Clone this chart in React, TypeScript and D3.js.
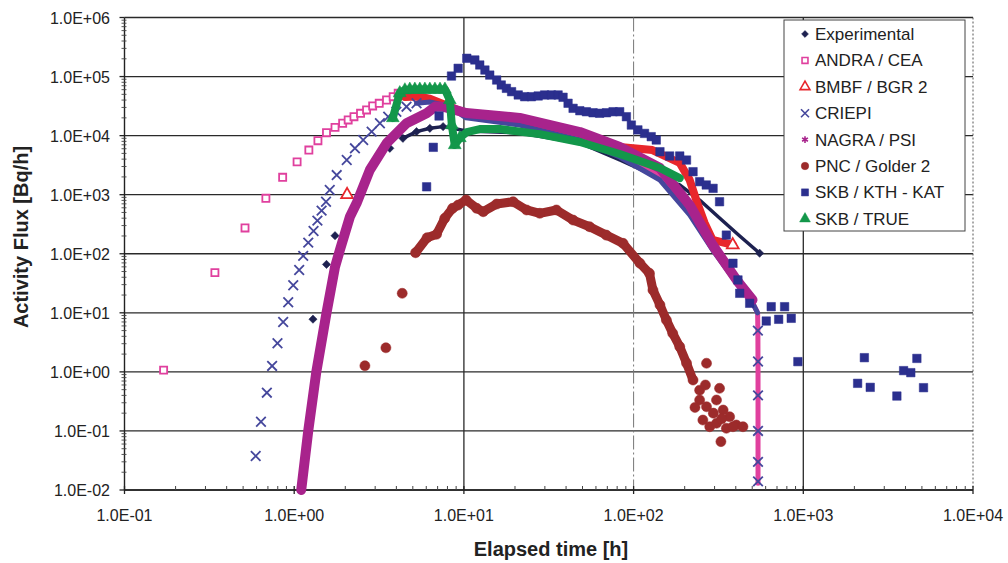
import * as d3 from "d3";

type P = [number, number];

const W = 1008;
const H = 563;
const left = 124.5;
const right = 973;
const top = 17.5;
const bottom = 490;

const xTicks = [0.1, 1, 10, 100, 1000, 10000];
const yTicks = [0.01, 0.1, 1, 10, 100, 1e3, 1e4, 1e5, 1e6];
const xGrid = [10, 100, 1000];

// ---- data: [elapsed time h, activity flux Bq/h] ----
const experimentalPts: P[] = [
  [1.29, 7.8], [1.55, 66], [1.74, 202], [3.66, 6100], [4.37, 9000], [5.26, 11700],
  [6.3, 13300], [7.54, 14200], [8.63, 13300], [553, 102],
];
const experimentalTrace: P[] = [
  [4.37, 9000], [5.26, 11700], [6.3, 13300], [7.54, 14200], [8.63, 13300], [10.3, 12000],
  [21.3, 11100], [48.2, 7500], [82.8, 3870], [143, 1910], [187, 1460], [245, 812],
  [321, 403], [422, 200], [553, 102],
];

const andraPts: P[] = [
  [0.17, 1.07], [0.341, 48], [0.513, 273], [0.681, 869], [0.855, 1970], [1.04, 3600],
  [1.22, 5700], [1.38, 8200], [1.55, 11200], [1.74, 13800], [1.93, 16200], [2.08, 18400],
  [2.25, 20900], [2.46, 23900], [2.67, 27200], [2.9, 31800], [3.17, 35300], [3.5, 40100],
  [3.83, 45600], [4.1, 52100],
];
const andraTrace: P[] = [
  [4.1, 52100], [5.5, 50000], [6.5, 42000], [8, 30000], [10.3, 22000], [21.3, 17500],
  [48.2, 10000], [82.8, 5200], [143, 2100], [214, 520], [292, 125], [405, 33], [502, 15],
  [538, 10], [540, 5], [541, 1], [541, 0.1], [541, 0.013],
];

const bmbfPts: P[] = [[2.05, 1000], [384, 141]];
const bmbfTrace: P[] = [
  [4.5, 45000], [5.2, 46000], [6.3, 42000], [8, 32000], [10.3, 24000], [21.3, 19000],
  [48.2, 11000], [82.8, 6400], [129, 5700], [187, 3440], [214, 1780], [234, 812],
  [262, 332], [292, 171], [384, 141],
];

const criepiPts: P[] = [
  [0.593, 0.0376], [0.637, 0.143], [0.69, 0.444], [0.741, 1.26], [0.797, 3.05],
  [0.861, 6.98], [0.922, 15.1], [0.987, 29.3], [1.07, 53], [1.13, 92], [1.21, 154],
  [1.3, 243], [1.37, 363], [1.45, 537], [1.54, 760], [1.62, 1200], [1.78, 2150],
  [2.04, 3870], [2.28, 6100], [2.55, 8430], [2.86, 11700], [3.2, 16200], [3.58, 20900],
  [4.0, 25400], [4.59, 30900], [5.26, 35300], [540, 5], [541, 1.5], [541, 0.4],
  [541, 0.1], [541, 0.03], [541, 0.014],
];
const criepiTrace: P[] = [
  [5.26, 35300], [6.3, 37000], [7.21, 34000], [8.5, 29000], [10.3, 20000], [21.3, 15100],
  [48.2, 8430], [82.8, 4350], [143, 1770], [214, 453], [292, 116], [405, 31.9],
  [502, 14.7], [538, 10],
];

const nagraTrace: P[] = [
  [1.1, 0.01], [1.21, 0.1], [1.35, 1], [1.55, 10], [1.74, 60], [1.86, 116], [2.13, 424],
  [2.33, 714], [2.79, 2620], [3.5, 7410], [4.59, 16200], [6.03, 23900], [6.8, 31000],
  [7.54, 30900], [10.3, 24200], [21.3, 19900], [48.2, 11500], [82.8, 6410], [143, 2830],
  [214, 668], [292, 141], [405, 35.9], [502, 16.5],
];

const pncPts: P[] = [
  [2.61, 1.27], [3.47, 2.56], [4.33, 21.4], [5.19, 104], [6.07, 187], [6.9, 214],
  [7.71, 398], [8.57, 588], [9.25, 668], [10.3, 812], [11.9, 588], [13.0, 515],
  [15.6, 695], [19.5, 760], [23.4, 551], [28, 484], [35.1, 551], [44, 372], [55, 287],
  [69, 207], [86.7, 150], [109, 69], [124, 46.7], [130, 24.3], [143, 13.6], [156, 7.55],
  [170, 4.5], [187, 2.67], [205, 1.41], [224, 0.728], [245, 0.49], [269, 0.257],
  [269, 1.4], [321, 0.527], [245, 0.334], [308, 0.334], [337, 0.226], [368, 0.174],
  [403, 0.126], [441, 0.118], [256, 0.153], [281, 0.118], [308, 0.135], [352, 0.111],
  [385, 0.118], [327, 0.066], [230, 0.25], [295, 0.2], [330, 0.16], [265, 0.6],
];
const pncTrace: P[] = [
  [5.19, 104], [6.07, 187], [6.9, 214], [7.71, 398], [8.57, 588], [9.25, 668], [10.3, 812],
  [11.9, 588], [13.0, 515], [15.6, 695], [19.5, 760], [23.4, 551], [28, 484], [35.1, 551],
  [44, 372], [55, 287], [69, 207], [86.7, 150], [109, 69], [124, 46.7], [130, 24.3],
  [143, 13.6], [156, 7.55], [170, 4.5], [187, 2.67], [205, 1.41], [224, 0.728],
];

const kthPts: P[] = [
  [6.03, 1360], [6.6, 6340], [7.14, 21500], [8.45, 102000], [9.25, 138000],
  [10.4, 204000], [11.6, 191000], [12.4, 157000], [13.3, 129000], [14.2, 106000],
  [15.6, 87400], [16.6, 72000], [17.8, 63200], [19.1, 55500], [20.9, 48800],
  [22.8, 45600], [25, 45600], [27.4, 46900], [29.9, 48800], [32.8, 48800], [35.9, 48800],
  [38.4, 44600], [41.1, 35300], [44, 29000], [48.2, 26400], [52.7, 25400], [57.7, 24400],
  [63.1, 23900], [69.2, 24400], [75.7, 25400], [82.8, 25400], [90.7, 20900], [97, 15100],
  [106, 12500], [116, 10900], [127, 9600], [136, 8430], [143, 5340], [163, 4520],
  [187, 4520], [205, 3860], [224, 2450], [245, 1660], [268, 1460], [294, 1280],
  [321, 760], [352, 207], [385, 69], [412, 36], [422, 21.4], [483, 14.5], [647, 12.7],
  [776, 12.7], [605, 7.26], [716, 7.76], [849, 8.07], [929, 1.49], [2290, 1.74],
  [2090, 0.64], [2480, 0.547], [3560, 0.39], [3900, 1.05], [4300, 0.97], [4670, 1.69],
  [5110, 0.54],
];

const truePts: P[] = [
  [3.81, 19900], [4.19, 52700], [4.49, 59000], [4.8, 60500], [5.14, 60500], [5.5, 60500],
  [5.89, 60500], [6.3, 60500], [6.75, 60500], [7.23, 60500], [7.73, 60500], [8.26, 40100],
  [8.49, 15100], [8.83, 6940], [9.46, 9120],
];
const trueTrace: P[] = [
  [3.81, 19900], [4.19, 52700], [4.49, 59000], [5.14, 60500], [5.89, 60500], [6.75, 60500],
  [7.73, 60500], [8.26, 40100], [8.49, 15100], [8.83, 6940], [9.46, 9120], [10.4, 11500],
  [12.4, 12900], [16.3, 12900], [28.0, 10600], [48.2, 7800], [82.8, 4890], [143, 2830],
  [187, 1910],
];

// "diamond" = a square turned 45°, like the Excel marker
const series = [
  { name: "Experimental", color: "#1d2150", symbol: d3.symbolSquare, rot: 45, size: 34, hollow: false, pts: experimentalPts, trace: experimentalTrace, tw: 3.5 },
  { name: "ANDRA / CEA", color: "#e0409e", symbol: d3.symbolSquare, rot: 0, size: 50, hollow: true, pts: andraPts, trace: andraTrace, tw: 5 },
  { name: "BMBF / BGR 2", color: "#e8262c", symbol: d3.symbolTriangle, rot: 0, size: 60, hollow: true, pts: bmbfPts, trace: bmbfTrace, tw: 8 },
  { name: "CRIEPI", color: "#45479c", symbol: d3.symbolX, rot: 0, size: 62, hollow: true, pts: criepiPts, trace: criepiTrace, tw: 5 },
  { name: "NAGRA / PSI", color: "#a8238c", symbol: d3.symbolAsterisk, rot: 0, size: 46, hollow: true, pts: [] as P[], trace: nagraTrace, tw: 10 },
  { name: "PNC / Golder 2", color: "#9c2b2b", symbol: d3.symbolCircle, rot: 0, size: 80, hollow: false, pts: pncPts, trace: pncTrace, tw: 9 },
  { name: "SKB / KTH - KAT", color: "#2b2f8e", symbol: d3.symbolSquare, rot: 0, size: 72, hollow: false, pts: kthPts, trace: [] as P[], tw: 0 },
  { name: "SKB / TRUE", color: "#13974a", symbol: d3.symbolTriangle, rot: 0, size: 72, hollow: false, pts: truePts, trace: trueTrace, tw: 8 },
];

const fmt = (v: number) => {
  const e = Math.round(Math.log10(v));
  return `1.0E${e < 0 ? "-" : "+"}${String(Math.abs(e)).padStart(2, "0")}`;
};

export default function App() {
  const x = d3.scaleLog().domain([0.1, 10000]).range([left, right]);
  const y = d3.scaleLog().domain([0.01, 1e6]).range([bottom, top]);
  const line = d3.line<P>().x((d) => x(d[0])).y((d) => y(d[1]));

  const xMinor: number[] = [];
  for (let e = -1; e < 4; e++) for (let k = 2; k < 10; k++) xMinor.push(k * 10 ** e);
  const yMinor: number[] = [];
  for (let e = -2; e < 6; e++) for (let k = 2; k < 10; k++) yMinor.push(k * 10 ** e);

  const font = "'Liberation Sans', Arial, Helvetica, sans-serif";
  const isStroke = (s: d3.SymbolType) => s === d3.symbolX || s === d3.symbolAsterisk;

  return (
    <svg width={W} height={H} style={{ position: "absolute", left: 0, top: 0, background: "#fff" }} fontFamily={font}>
      {/* grid */}
      {yTicks.map((t) => (
        <line key={"gy" + t} x1={left} x2={right} y1={y(t)} y2={y(t)} stroke="#2a2a2a" strokeWidth={1.3} />
      ))}
      {xGrid.map((t) => (
        <line key={"gx" + t} x1={x(t)} x2={x(t)} y1={top} y2={bottom}
          stroke={t === 100 ? "#777" : "#2a2a2a"} strokeWidth={t === 100 ? 1 : 1.3}
          strokeDasharray={t === 100 ? "14 3 2 3" : undefined} />
      ))}
      <line x1={right} x2={right} y1={top} y2={bottom} stroke="#555" strokeWidth={1} strokeDasharray="2 2" />

      {/* axes */}
      <line x1={left} x2={left} y1={top} y2={bottom} stroke="#222" strokeWidth={1.4} />
      <line x1={left} x2={right} y1={bottom} y2={bottom} stroke="#222" strokeWidth={1.4} />
      {yTicks.map((t) => (
        <line key={"ty" + t} x1={left - 5} x2={left} y1={y(t)} y2={y(t)} stroke="#222" strokeWidth={1.3} />
      ))}
      {yMinor.map((t) => (
        <line key={"my" + t} x1={left - 3} x2={left + 2} y1={y(t)} y2={y(t)} stroke="#444" strokeWidth={0.9} />
      ))}
      {xTicks.map((t) => (
        <line key={"tx" + t} x1={x(t)} x2={x(t)} y1={bottom - 4} y2={bottom + 4} stroke="#222" strokeWidth={1.3} />
      ))}
      {xMinor.map((t) => (
        <line key={"mx" + t} x1={x(t)} x2={x(t)} y1={bottom - 4} y2={bottom} stroke="#444" strokeWidth={1} />
      ))}

      {/* series */}
      {series.map((s) => (
        <g key={s.name}>
          {s.trace.length > 0 && (
            <path d={line(s.trace) ?? ""} fill="none" stroke={s.color} strokeWidth={s.tw}
              strokeLinejoin="round" strokeLinecap="round" />
          )}
          {s.pts.map((p, i) => (
            <path key={i} transform={`translate(${x(p[0])},${y(p[1])}) rotate(${s.rot})`}
              d={d3.symbol(s.symbol, s.size)() ?? ""}
              fill={s.hollow ? (isStroke(s.symbol) ? "none" : "#fff") : s.color}
              stroke={s.color} strokeWidth={s.hollow ? 1.8 : 0.5} />
          ))}
        </g>
      ))}

      {/* tick labels */}
      {yTicks.map((t) => (
        <text key={"ly" + t} x={110} y={y(t) + 6} textAnchor="end" fontSize={16} fill="#222">{fmt(t)}</text>
      ))}
      {xTicks.map((t) => (
        <text key={"lx" + t} x={x(t)} y={521} textAnchor="middle" fontSize={16} fill="#222">{fmt(t)}</text>
      ))}

      {/* axis titles */}
      <text x={551} y={556} textAnchor="middle" fontSize={20} fontWeight="bold" fill="#222">Elapsed time [h]</text>
      <text transform="translate(28,237) rotate(-90)" textAnchor="middle" fontSize={20} fontWeight="bold" fill="#222">Activity Flux [Bq/h]</text>

      {/* legend */}
      <rect x={784} y={20} width={181} height={211} fill="#fff" stroke="#444" strokeWidth={1} />
      {series.map((s, i) => {
        const ly = 34 + i * 26.4;
        const ls = s.symbol === d3.symbolCircle ? 44 : s.size * 0.7;
        return (
          <g key={"lg" + s.name}>
            <path transform={`translate(805,${ly}) rotate(${s.rot})`} d={d3.symbol(s.symbol, ls)() ?? ""}
              fill={s.hollow ? (isStroke(s.symbol) ? "none" : "#fff") : s.color}
              stroke={s.color} strokeWidth={s.hollow ? 1.6 : 0.5} />
            <text x={815} y={ly + 6} fontSize={17} fill="#222">{s.name}</text>
          </g>
        );
      })}
    </svg>
  );
}
